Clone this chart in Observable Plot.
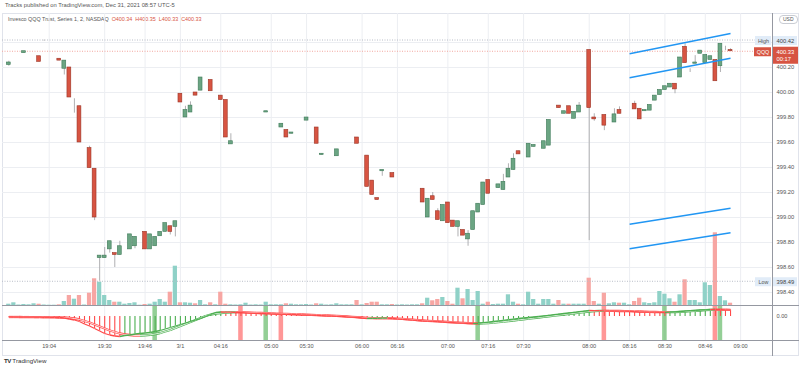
<!DOCTYPE html>
<html>
<head>
<meta charset="utf-8">
<script src="https://cdn.jsdelivr.net/npm/d3@7"></script>
<script src="https://cdn.jsdelivr.net/npm/@observablehq/plot@0.6"></script>
<style>
html,body{margin:0;padding:0;background:#fff;}
#chart{position:relative;width:800px;height:368px;overflow:hidden;background:#fff;font-family:"Liberation Sans",Arial,sans-serif;}
.lbl{position:absolute;white-space:nowrap;color:#555;line-height:1;}
</style>
</head>
<body>
<div id="chart">
  <div class="lbl" style="left:5px;top:3px;font-size:5.8px;">Tracks published on TradingView.com, Dec 31, 2021 08:57 UTC-5</div>
  <div style="position:absolute;left:2px;top:13px;width:795px;height:341px;border:1px solid #e0e3eb;"></div>
  <div class="lbl" id="legend" style="left:8px;top:17px;font-size:5.4px;color:#555;"></div>
  <div class="lbl" style="left:779px;top:15px;font-size:5px;border:1px solid #c9ccd3;border-radius:4px;padding:1px 3px;color:#555;">USD</div>
  <div class="lbl" style="left:4px;top:358px;font-size:6.2px;color:#333;"><b style="letter-spacing:-0.6px;">TV</b> TradingView</div>
</div>
<script>
// ---------- data ----------
const opens = [400.22,400.29,400.33,400.315,400.30,400.30,400.29,400.41,400.325,400.27,
 400.27,400.19,400.20,399.91,399.89,399.63,399.555,399.39,398.675,398.675,
 398.745,398.715,398.70,398.90,398.745,398.77,398.80,398.885,398.745,398.77,
 398.85,398.885,398.93,398.925,399.99,399.80,399.84,400.00,400.015,400.115,
 400.10,399.98,399.975,399.94,399.585,399.41,399.48,399.70,399.74,399.72,
 399.70,399.84,399.81,399.75,399.72,399.70,399.67,399.74,399.765,399.775,
 399.79,399.72,399.50,399.60,399.545,399.49,399.59,399.60,399.63,399.64,
 399.495,399.495,399.295,399.155,399.37,399.42,399.355,399.30,399.40,399.45,
 399.29,399.27,399.23,399.00,399.17,399.05,398.97,399.12,398.975,398.925,
 398.90,398.825,398.90,399.04,399.10,399.30,399.24,399.235,399.22,399.32,
 399.38,399.53,399.555,399.48,399.565,399.56,399.55,399.575,399.80,399.895,
 399.83,399.89,399.79,399.84,399.87,400.34,399.80,399.83,399.82,399.74,
 399.76,399.86,399.775,399.865,399.91,399.87,399.85,399.855,399.935,399.98,
 400.02,400.04,400.07,400.12,400.365,400.19,400.23,400.31,400.235,400.26,
 400.26,400.21,400.35,400.34];
const highs = [400.25,400.29,400.33,400.33,400.30,400.30,400.29,400.42,400.325,400.27,
 400.27,400.255,400.20,399.95,399.89,399.63,399.57,399.39,398.695,398.76,
 398.81,398.715,398.81,398.90,398.865,398.845,398.80,398.885,398.865,398.845,
 398.885,398.955,398.93,398.97,399.99,399.89,399.925,400.00,400.12,400.115,
 400.10,399.98,399.975,399.94,399.67,399.41,399.48,399.70,399.74,399.72,
 399.70,399.85,399.81,399.75,399.75,399.70,399.68,399.74,399.765,399.80,
 399.79,399.72,399.51,399.60,399.545,399.545,399.59,399.60,399.63,399.64,
 399.495,399.495,399.295,399.155,399.38,399.42,399.355,399.30,399.40,399.45,
 399.29,399.27,399.23,399.15,399.20,399.07,399.10,399.12,398.975,398.97,
 398.90,398.895,399.05,399.11,399.28,399.30,399.24,399.265,399.345,399.43,
 399.51,399.53,399.555,399.59,399.58,399.56,399.61,399.78,399.80,399.895,
 399.85,399.89,399.845,399.92,399.87,400.34,399.83,399.83,399.82,399.74,
 399.87,399.885,399.775,399.865,399.93,399.87,399.86,399.90,399.975,400.02,
 400.05,400.07,400.07,400.28,400.39,400.19,400.295,400.335,400.30,400.29,
 400.26,400.39,400.37,400.35];
const lows = [400.21,400.29,400.33,400.315,400.30,400.30,400.245,400.41,400.325,400.27,
 400.255,400.14,399.96,399.835,399.60,399.63,399.395,398.975,398.49,398.675,
 398.715,398.60,398.70,398.90,398.745,398.75,398.80,398.745,398.745,398.77,
 398.85,398.885,398.86,398.845,399.92,399.80,399.84,399.975,400.015,400.115,
 400.01,399.98,399.94,399.64,399.585,399.41,399.48,399.70,399.74,399.72,
 399.70,399.84,399.81,399.75,399.72,399.64,399.67,399.74,399.765,399.775,
 399.79,399.59,399.50,399.60,399.545,399.49,399.59,399.60,399.63,399.59,
 399.495,399.245,399.18,399.14,399.33,399.42,399.32,399.30,399.40,399.45,
 399.29,399.27,399.12,399.00,399.14,398.98,398.97,398.955,398.925,398.845,
 398.855,398.77,398.90,399.04,399.10,399.19,399.24,399.235,399.22,399.32,
 399.38,399.505,399.555,399.48,399.565,399.56,399.55,399.575,399.80,399.875,
 399.83,399.83,399.79,399.84,399.87,398.815,399.77,399.83,399.695,399.74,
 399.76,399.83,399.775,399.865,399.865,399.785,399.85,399.855,399.935,399.98,
 400.02,400.04,399.99,400.12,400.235,400.16,400.23,400.31,400.235,400.26,
 400.09,400.16,400.335,400.33];
const closes = [400.24,400.29,400.33,400.33,400.30,400.30,400.245,400.41,400.325,400.27,
 400.255,400.255,399.96,399.91,399.60,399.63,399.395,399.00,398.695,398.695,
 398.81,398.70,398.77,398.90,398.865,398.845,398.80,398.745,398.865,398.845,
 398.885,398.955,398.885,398.97,399.92,399.86,399.895,399.975,400.12,400.115,
 400.01,399.98,399.94,399.64,399.61,399.41,399.48,399.70,399.74,399.72,
 399.70,399.85,399.81,399.75,399.75,399.64,399.68,399.74,399.765,399.80,
 399.79,399.59,399.51,399.60,399.545,399.545,399.59,399.60,399.63,399.59,
 399.495,399.245,399.18,399.14,399.38,399.42,399.32,399.30,399.40,399.45,
 399.29,399.27,399.12,399.15,399.14,398.98,399.10,398.955,398.925,398.97,
 398.855,398.87,399.05,399.11,399.28,399.19,399.24,399.265,399.285,399.39,
 399.47,399.505,399.555,399.59,399.58,399.56,399.61,399.78,399.80,399.875,
 399.85,399.83,399.845,399.895,399.87,399.875,399.785,399.83,399.735,399.74,
 399.825,399.83,399.775,399.865,399.865,399.785,399.86,399.90,399.975,400.02,
 400.05,400.07,400.025,400.28,400.235,400.19,400.24,400.335,400.30,400.29,
 400.09,400.39,400.35,400.33];
const volumes = [1.3,2.7,0.5,1,0.7,1.7,1.3,0.5,0.3,0.3,
 0.7,4,10,6.3,10,0.5,12.3,26.7,23.3,10,
 5,3.3,3.3,1.3,2,2.7,0.3,1,1.3,3.3,
 6,3.3,13.3,39.3,2.7,2.7,2.3,1.7,5,0.7,
 2.7,0.7,13.3,1.3,0.7,0.5,0.7,2.3,0.5,0.7,
 0.5,3.3,0.7,0.7,0.7,1.7,1.3,0.7,0.7,1,
 0.5,1.7,1.3,0.5,0.7,1.7,0.7,0.7,0.7,5,
 0.7,2,3.3,3.3,0.7,0.7,1,0.5,0.7,0.5,
 0.7,0.7,1.7,7.3,4.7,6,8,4,1.3,17.3,
 6.7,16,5,14,1.3,3.3,1,1.3,1.3,10.7,
 3.3,1.3,0.7,13.3,6,1.3,6,6,1.3,5,
 1.3,1.3,1.3,1.3,1.3,27.3,4,1.3,12.3,1.7,
 2.7,2.3,2.3,0.7,4,7.3,2.7,2,2.7,14,
 11.3,6.7,3.3,10.7,25.7,5,5,2.7,22.7,20,
 72.7,9,4.7,2.3];
const oscValues = [-0.0004,-0.0005,-0.0005,-0.0006,-0.0006,-0.0007,-0.0007,-0.0008,-0.0008,-0.0009,
 -0.001,-0.0015,-0.0025,-0.0035,-0.005,-0.0075,-0.0095,-0.012,-0.0145,-0.017,
 -0.0185,-0.0195,-0.020,-0.019,-0.0185,-0.0175,-0.017,-0.0165,-0.016,-0.015,
 -0.014,-0.0125,-0.011,-0.0095,-0.008,-0.0065,-0.005,-0.0035,-0.002,0.000,
 0.002,0.004,0.0045,0.0044,0.0043,0.0040,0.0038,0.0036,0.0034,0.0032,
 0.0030,0.0028,0.0026,0.0025,0.0024,0.0022,0.0020,0.0018,0.0016,0.0015,
 0.0013,0.0011,0.0009,0.0007,0.0005,0.0002,0.0000,-0.0003,-0.0006,-0.0010,
 -0.0015,-0.0020,-0.0019,-0.0018,-0.0017,-0.0016,-0.0020,-0.0024,-0.0028,-0.0032,
 -0.0036,-0.0040,-0.0043,-0.0046,-0.0049,-0.0052,-0.0055,-0.0058,-0.0061,-0.0064,
 -0.0067,-0.0070,-0.0071,-0.0068,-0.0062,-0.0056,-0.0050,-0.0044,-0.0038,-0.0032,
 -0.0026,-0.0020,-0.0015,-0.0010,-0.0005,0.0000,0.0006,0.0012,0.0018,0.0024,
 0.0030,0.0036,0.0042,0.0048,0.0054,0.0060,0.0059,0.0058,0.0057,0.0056,
 0.0055,0.0054,0.0053,0.0051,0.0049,0.0047,0.0045,0.0044,0.0043,0.0042,
 0.0041,0.0043,0.0046,0.0050,0.0054,0.0058,0.0061,0.0064,0.0067,0.0070,
 0.0069,0.0068,0.0067,0.0066];
const signalValues = [-0.0005,-0.0005,-0.0005,-0.0006,-0.0006,-0.0007,-0.0007,-0.0008,-0.0008,-0.0009,
 -0.001,-0.001,-0.0015,-0.002,-0.003,-0.0045,-0.006,-0.008,-0.010,-0.012,
 -0.014,-0.0155,-0.017,-0.018,-0.0185,-0.019,-0.019,-0.0188,-0.0183,-0.0175,
 -0.0165,-0.015,-0.0135,-0.0115,-0.0095,-0.0075,-0.0055,-0.0035,-0.0015,0.0005,
 0.002,0.003,0.0035,0.0038,0.0042,0.0044,0.0043,0.0041,0.0039,0.0037,
 0.0035,0.0033,0.0031,0.0029,0.0027,0.0026,0.0024,0.0022,0.0020,0.0018,
 0.0016,0.0014,0.0012,0.0010,0.0008,0.0006,0.0003,0.0000,-0.0003,-0.0006,
 -0.0010,-0.0014,-0.0017,-0.0018,-0.0018,-0.0018,-0.0019,-0.0021,-0.0024,-0.0028,
 -0.0032,-0.0036,-0.0040,-0.0043,-0.0046,-0.0049,-0.0052,-0.0055,-0.0058,-0.0061,
 -0.0064,-0.0067,-0.0069,-0.0070,-0.0069,-0.0066,-0.0062,-0.0057,-0.0052,-0.0046,
 -0.0040,-0.0034,-0.0028,-0.0022,-0.0016,-0.0010,-0.0004,0.0002,0.0008,0.0014,
 0.0020,0.0026,0.0032,0.0038,0.0044,0.0050,0.0054,0.0056,0.0057,0.0057,
 0.0056,0.0055,0.0054,0.0053,0.0052,0.0050,0.0048,0.0046,0.0045,0.0044,
 0.0043,0.0043,0.0044,0.0046,0.0049,0.0053,0.0056,0.0060,0.0063,0.0066,
 0.0068,0.0068,0.0068,0.0067];
const timeTickIdx = [8,19,27,34,42,52,59,70,77,87,95,102,115,123,130,138,145];
const timeTickLabels = ["19:04","19:30","19:46","3/1","04:16","05:00","05:30","06:00","06:16","07:00","07:16","07:30","08:00","08:16","08:30","08:46","09:00"];
const priceTicks = [398.40,398.60,398.80,399.00,399.20,399.40,399.60,399.80,400.00,400.20];
const gridPrices = [398.40,398.60,398.80,399.00,399.20,399.40,399.60,399.80,400.00,400.20,400.40];
const signalIdx = [29,46,51,54,93,118,130,140,141];
const signalUp = [true,false,true,false,true,false,true,false,true];
const trendStartIdx = [123,123,123,123];
const trendStartPrice = [400.31,400.118,398.946,398.75];
const trendEndIdx = [143,143,143,143];
const trendEndPrice = [400.472,400.274,399.074,398.878];
const highPrice = 400.42, lowPrice = 398.49, lastPrice = 400.33, countdown = "00:17";
const symbolName = "Invesco QQQ Trust, Series 1, 2, NASDAQ";
const tickerName = "QQQ";

// ---------- derived tables ----------
const N = closes.length;
const candles = d3.range(N).map(i => ({i, o: opens[i], h: highs[i], l: lows[i], c: closes[i], v: volumes[i], up: closes[i] >= opens[i], doji: closes[i] === opens[i]}));
const ind = d3.range(N).map(i => ({i, osc: oscValues[i], rise: i > 0 && oscValues[i] > oscValues[i - 1]}));
const segs = (arr) => d3.range(1, N).map(i => ({i0: i - 1, i1: i, v0: arr[i - 1], v1: arr[i], color: arr[i] > arr[i - 1] ? "#4caf50" : "#ff4a4a"}));
const oscSegs = segs(oscValues), sigSegs = segs(signalValues);
const timeTicks = timeTickIdx.map((i, k) => ({i, label: timeTickLabels[k]}));
const highlights = signalIdx.map((i, k) => ({i, up: signalUp[k]}));
const trends = trendStartIdx.map((i, k) => ({i1: i, p1: trendStartPrice[k], i2: trendEndIdx[k], p2: trendEndPrice[k]}));

const last = candles[N - 1];
const red = "#d75442";
document.getElementById("legend").innerHTML = symbolName +
  ` <span style="color:${red}">&nbsp;O${last.o.toFixed(2)} &nbsp;H${last.h.toFixed(2)} &nbsp;L${last.l.toFixed(2)} &nbsp;C${last.c.toFixed(2)}</span>`;

// ---------- layout ----------
const font = "Liberation Sans, Arial, sans-serif";
const sty = (left) => ({position: "absolute", left: left + "px", top: "0px", background: "transparent", overflow: "visible", fontFamily: font});
const common = {
  width: 800, height: 368,
  marginLeft: 2, marginRight: 28, marginTop: 13, marginBottom: 28,
  x: {type: "linear", domain: [0, N - 1], range: [8.3, 8.3 + 5.047 * (N - 1)], axis: null},
  style: sty(0)
};
const priceY = {type: "linear", domain: [398.4, 400.2], range: [292, 67], axis: null};

const chart = document.getElementById("chart");
const add = (svg) => { chart.appendChild(svg); };

// base: grids and time labels
add(Plot.plot({...common, y: priceY, marks: [
  Plot.ruleY(gridPrices, {stroke: "#eceef2", strokeWidth: 1}),
  Plot.ruleX(timeTicks, {x: "i", stroke: "#eceef2", strokeWidth: 1}),
  Plot.text(timeTicks, {x: "i", text: "label", frameAnchor: "bottom", dy: 7.5, fontSize: 5.6, fill: "#555"})
]}));

// volume
add(Plot.plot({...common, marginBottom: 63, y: {type: "linear", domain: [0, 100], range: [305, 205], axis: null}, marks: [
  Plot.rect(candles, {x1: d => d.i - 0.42, x2: d => d.i + 0.42, y1: 0, y2: "v", fill: d => d.up ? "#8fd1c7" : "#f7a6a3"})
]}));

// indicator pane
add(Plot.plot({...common, marginRight: 2, marginTop: 305, marginBottom: 28,
  y: {type: "linear", domain: [-0.024, 0.011], range: [340, 305], axis: null}, marks: [
  Plot.rect(highlights, {x1: d => d.i - 0.45, x2: d => d.i + 0.45, fill: d => d.up ? "#4caf50" : "#ff5252", fillOpacity: 0.6}),
  Plot.ruleX(ind, {x: "i", y1: 0, y2: "osc", stroke: d => d.rise ? "#4caf50" : "#ff4a4a", strokeWidth: 1.1}),
  Plot.link(sigSegs, {x1: "i0", y1: "v0", x2: "i1", y2: "v1", stroke: "color", strokeWidth: 2.3}),
  Plot.link(sigSegs, {x1: "i0", y1: "v0", x2: "i1", y2: "v1", stroke: "#fff", strokeWidth: 0.8}),
  Plot.link(oscSegs, {x1: "i0", y1: "v0", x2: "i1", y2: "v1", stroke: "color", strokeWidth: 1.3}),
  Plot.frame({anchor: "top", stroke: "#9598a1"}),
  Plot.frame({anchor: "bottom", stroke: "#9598a1"}),
  Plot.text([0], {y: d => d, text: d => d.toFixed(2), frameAnchor: "right", dx: -22, textAnchor: "start", fontSize: 5.6, fill: "#555"})
]}));

// candles and drawings
add(Plot.plot({...common, y: priceY, marks: [
  Plot.ruleY([highPrice], {stroke: "#b8bcc6", strokeDasharray: "1,1.5"}),
  Plot.ruleY([lowPrice], {stroke: "#b8bcc6", strokeDasharray: "1,1.5"}),
  Plot.ruleY([lastPrice], {stroke: "#f2a69f", strokeDasharray: "1,1.5"}),
  Plot.ruleX(candles, {x: "i", y1: "l", y2: "h", stroke: "#a7a7a9", strokeWidth: 0.9}),
  Plot.rect(candles, {x1: d => d.i - 0.38, x2: d => d.i + 0.38, y1: "o", y2: "c",
    fill: d => d.up ? "#6ba583" : "#d75442",
    stroke: d => d.doji ? "#9fbfac" : d.up ? "#3e7a58" : "#9b3426", strokeWidth: 0.6}),
  Plot.link(trends, {x1: "i1", y1: "p1", x2: "i2", y2: "p2", stroke: "#2196f3", strokeWidth: 1.4})
]}));

// price axis with tags
add(Plot.plot({width: 48, height: 368, marginLeft: 20, marginRight: 0, marginTop: 13, marginBottom: 13,
  y: priceY, style: sty(752), marks: [
  Plot.frame({anchor: "left", stroke: "#9598a1"}),
  Plot.text(priceTicks, {y: d => d, text: d => d.toFixed(2), frameAnchor: "left", dx: 4, textAnchor: "start", fontSize: 5.8, fill: "#555"}),
  // High tag
  Plot.rect([highPrice], {y1: d => d, y2: d => d, insetTop: -3.5, insetBottom: -5.5, insetLeft: 1, insetRight: 3, fill: "#e1ecf8"}),
  Plot.rect([highPrice], {y1: d => d, y2: d => d, insetTop: -3.5, insetBottom: -5.5, insetLeft: -17, insetRight: 29, fill: "#e1ecf8"}),
  Plot.text([highPrice], {y: d => d, dy: 1, text: d => d.toFixed(2), frameAnchor: "left", dx: 4, textAnchor: "start", fontSize: 5.8, fill: "#444"}),
  Plot.text([highPrice], {y: d => d, dy: 1, text: () => "High", frameAnchor: "left", dx: -9, textAnchor: "middle", fontSize: 5.4, fill: "#555"}),
  // Low tag
  Plot.rect([lowPrice], {y1: d => d, y2: d => d, insetTop: -3.5, insetBottom: -5.5, insetLeft: 1, insetRight: 3, fill: "#e1ecf8"}),
  Plot.rect([lowPrice], {y1: d => d, y2: d => d, insetTop: -3.5, insetBottom: -5.5, insetLeft: -17, insetRight: 29, fill: "#e1ecf8"}),
  Plot.text([lowPrice], {y: d => d, dy: 1, text: d => d.toFixed(2), frameAnchor: "left", dx: 4, textAnchor: "start", fontSize: 5.8, fill: "#444"}),
  Plot.text([lowPrice], {y: d => d, dy: 1, text: () => "Low", frameAnchor: "left", dx: -9, textAnchor: "middle", fontSize: 5.4, fill: "#555"}),
  // last price tag
  Plot.rect([lastPrice], {y1: d => d, y2: d => d, insetTop: -4, insetBottom: -13, insetLeft: 1, insetRight: 2, fill: red}),
  Plot.rect([lastPrice], {y1: d => d, y2: d => d, insetTop: -3.5, insetBottom: -5.5, insetLeft: -18, insetRight: 29, fill: red}),
  Plot.text([lastPrice], {y: d => d, dy: 1, text: d => d.toFixed(2), frameAnchor: "left", dx: 4, textAnchor: "start", fontSize: 5.8, fill: "#fff"}),
  Plot.text([lastPrice], {y: d => d, dy: 8, text: () => countdown, frameAnchor: "left", dx: 4, textAnchor: "start", fontSize: 5.8, fill: "#fff"}),
  Plot.text([lastPrice], {y: d => d, dy: 1, text: () => tickerName, frameAnchor: "left", dx: -9.5, textAnchor: "middle", fontSize: 5.4, fill: "#fff"})
]}));
</script>
</body>
</html>
